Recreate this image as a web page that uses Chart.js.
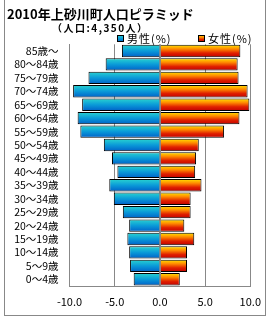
<!DOCTYPE html>
<html>
<head>
<meta charset="utf-8">
<script src="https://cdn.jsdelivr.net/npm/chart.js@4"></script>
<style>
  html, body { margin: 0; padding: 0; background: #fff; }
  #wrap { width: 270px; height: 320px; }
</style>
</head>
<body>
<div id="wrap"><canvas id="pyramid" width="270" height="320"></canvas></div>
<script>
// age groups, top to bottom
const ageGroups = ["85歳～", "80～84歳", "75～79歳", "70～74歳", "65～69歳", "60～64歳",
  "55～59歳", "50～54歳", "45～49歳", "40～44歳", "35～39歳", "30～34歳",
  "25～29歳", "20～24歳", "15～19歳", "10～14歳", "5～9歳", "0～4歳"];
// male shares drawn to the left (negative)
const male = [-4.2, -6.0, -7.9, -9.6, -8.6, -9.1, -8.8, -6.2, -5.3, -4.7,
  -5.6, -5.1, -4.1, -3.4, -3.6, -3.4, -3.3, -2.9];
const female = [8.9, 8.6, 8.7, 9.7, 9.9, 8.8, 7.1, 4.3, 4.0, 3.9,
  4.6, 3.4, 3.4, 2.7, 3.8, 3.0, 3.0, 2.2];
const xTicks = [-10, -5, 0, 5, 10];

const titleText = "2010年上砂川町人口ピラミッド";
const subText = "（人口:4,350人）";
const maleLabel = "男性(%)";
const femaleLabel = "女性(%)";

const FONT = '"Noto Sans CJK JP", "Noto Sans", sans-serif';

const maleStops = ["#2ad4d0", "#0a9ad8", "#0060c8"];
const femaleStops = ["#ffe600", "#ff8a00", "#e02000", "#c00000"];

function grad(ctx2d, y0, y1, stops) {
  const g = ctx2d.createLinearGradient(0, y0, 0, y1);
  stops.forEach((c, i) => g.addColorStop(i / (stops.length - 1), c));
  return g;
}

function barFill(stops) {
  return function (ctx) {
    const chart = ctx.chart;
    const ys = chart.scales.y;
    if (!chart.chartArea || !ys || ctx.type !== "data") return stops[1];
    const c = ys.getPixelForValue(ctx.dataIndex);
    return grad(chart.ctx, c - 6.2, c + 6.2, stops);
  };
}

// frame, title, subtitle, legend and the zero axis line
const decor = {
  id: "decor",
  beforeDraw(chart) {
    const c = chart.ctx;
    c.save();
    c.fillStyle = "#fff";
    c.fillRect(0, 0, chart.width, chart.height);
    c.strokeStyle = "#888";
    c.lineWidth = 1;
    c.strokeRect(4.5, -1.5, 261, 317);
    c.restore();
  },
  afterDatasetsDraw(chart) {
    const c = chart.ctx;
    const x0 = Math.round(chart.scales.x.getPixelForValue(0)) + 0.5;
    c.save();
    c.strokeStyle = "#888";
    c.lineWidth = 1;
    c.beginPath();
    c.moveTo(x0, chart.chartArea.top);
    c.lineTo(x0, chart.chartArea.bottom);
    c.stroke();
    c.restore();
  },
  afterDraw(chart) {
    const c = chart.ctx;
    c.save();
    c.fillStyle = "#000";
    c.textBaseline = "middle";
    c.textAlign = "left";
    c.font = "bold 13px " + FONT;
    c.fillText(titleText, 7, 14);
    c.font = "bold 10px " + FONT;
    c.letterSpacing = "1.5px";
    c.fillText(subText, 52, 28);
    // legend
    c.font = "11px " + FONT;
    c.letterSpacing = "1px";
    const items = [[117, maleStops, maleLabel], [198, femaleStops, femaleLabel]];
    items.forEach(([x, stops, label]) => {
      c.fillStyle = grad(c, 35, 42, stops);
      c.fillRect(x, 35, 7, 7);
      c.strokeStyle = "#000";
      c.lineWidth = 1;
      c.strokeRect(x + 0.5, 35.5, 6, 6);
      c.fillStyle = "#000";
      c.fillText(label, x + 10, 38.5);
    });
    c.restore();
  }
};

new Chart(document.getElementById("pyramid"), {
  type: "bar",
  data: {
    labels: ageGroups,
    datasets: [
      {
        label: maleLabel,
        data: male,
        backgroundColor: barFill(maleStops),
        borderColor: "#000",
        borderWidth: 1,
        categoryPercentage: 1,
        barPercentage: 0.92
      },
      {
        label: femaleLabel,
        data: female,
        backgroundColor: barFill(femaleStops),
        borderColor: "#000",
        borderWidth: 1,
        categoryPercentage: 1,
        barPercentage: 0.92
      }
    ]
  },
  options: {
    indexAxis: "y",
    responsive: false,
    animation: false,
    layout: { padding: { left: 4.5, right: 19.7, top: 44.3, bottom: 4 } },
    plugins: {
      legend: { display: false },
      title: { display: false },
      tooltip: { enabled: false }
    },
    scales: {
      x: {
        stacked: true,
        min: -10,
        max: 10,
        afterBuildTicks: (s) => { s.ticks = xTicks.map(v => ({ value: v })); },
        afterFit: (s) => { s.height = 30; },
        ticks: {
          callback: (v) => Number(v).toFixed(1),
          color: "#000",
          font: { family: FONT, size: 11 },
          padding: 9,
          maxRotation: 0
        },
        grid: { color: "#888", drawTicks: false },
        border: { display: true, color: "#888" }
      },
      y: {
        stacked: true,
        afterFit: (s) => { s.width = 65; },
        ticks: {
          color: "#000",
          font: { family: FONT, size: 10.5 },
          padding: 11,
          autoSkip: false
        },
        grid: { display: false, drawTicks: false },
        border: { display: true, color: "#888" }
      }
    }
  },
  plugins: [decor]
});
</script>
</body>
</html>
